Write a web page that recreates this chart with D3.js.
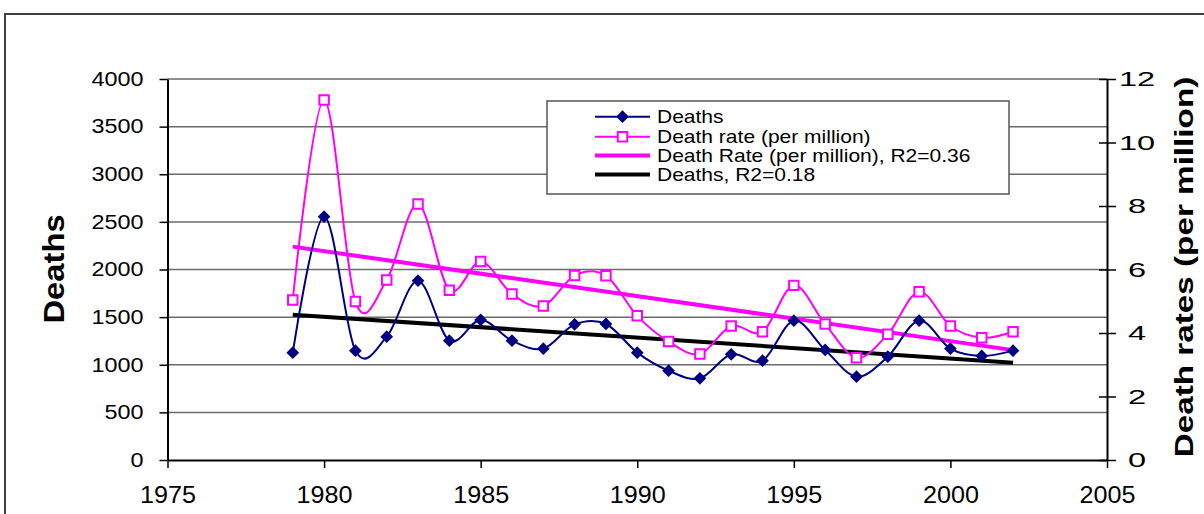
<!DOCTYPE html>
<html>
<head>
<meta charset="utf-8">
<script src="https://d3js.org/d3.v7.min.js"></script>
<style>
  body { margin: 0; background: #fff; }
  svg text { font-family: "Liberation Sans", Arial, sans-serif; fill: #000; }
</style>
</head>
<body>
<div class="chart"></div>
<script>
// data
var years = [1979, 1980, 1981, 1982, 1983, 1984, 1985, 1986, 1987, 1988, 1989, 1990,
             1991, 1992, 1993, 1994, 1995, 1996, 1997, 1998, 1999, 2000, 2001, 2002];
var deaths = [1127, 2555, 1148, 1295, 1883, 1253, 1470, 1253, 1169, 1424, 1428, 1127,
              938, 857, 1110, 1043, 1463, 1155, 875, 1085, 1463, 1169, 1092, 1148];
var rates = [5.04, 11.34, 4.99, 5.67, 8.06, 5.35, 6.25, 5.23, 4.85, 5.81, 5.80, 4.54,
             3.73, 3.34, 4.22, 4.04, 5.50, 4.28, 3.22, 3.96, 5.30, 4.22, 3.85, 4.04];
var trendYears = [1979, 2002];
var deathsTrend = [1526, 1022];
var rateTrend = [6.72, 3.46];

var xTicks = [1975, 1980, 1985, 1990, 1995, 2000, 2005];
var leftTicks = [0, 500, 1000, 1500, 2000, 2500, 3000, 3500, 4000];
var rightTicks = [0, 2, 4, 6, 8, 10, 12];
var legendLabels = ["Deaths", "Death rate (per million)",
                    "Death Rate (per million), R2=0.36", "Deaths, R2=0.18"];

var w = 1204, h = 514;
var plotL = 167.5, plotR = 1107, plotT = 79, plotB = 460;
var navy = "#000080", pink = "#ff00ff";

var x = d3.scaleLinear().domain([1975, 2005]).range([plotL, plotR]);
var yL = d3.scaleLinear().domain([0, 4000]).range([plotB, plotT]);
var yR = d3.scaleLinear().domain([0, 12]).range([plotB, plotT]);

var svg = d3.select("div.chart").append("svg")
    .attr("width", w).attr("height", h);

svg.append("rect").attr("width", w).attr("height", h).attr("fill", "#fff");

// outer frame (runs off the picture on right and bottom)
svg.append("rect")
    .attr("x", 5).attr("y", 14).attr("width", 1260).attr("height", 600)
    .attr("fill", "none").attr("stroke", "#404040").attr("stroke-width", 2);

// gridlines
svg.selectAll("line.grid")
    .data(leftTicks.slice(1))
    .enter().append("line")
    .attr("class", "grid")
    .attr("x1", plotL).attr("x2", plotR)
    .attr("y1", function(d) { return yL(d); })
    .attr("y2", function(d) { return yL(d); })
    .attr("stroke", "#6a6a6a").attr("stroke-width", 1.5);

// axes
var gL = svg.append("g").attr("transform", "translate(" + plotL + ",0)")
    .call(d3.axisLeft(yL).tickValues(leftTicks).tickFormat(d3.format("d"))
          .tickSize(8).tickSizeOuter(0));
gL.selectAll("text").attr("x", -24 / 1.2).attr("transform", "scale(1.2,1)")
    .style("font-size", "19.5px");

var gR = svg.append("g").attr("transform", "translate(" + plotR + ",0)")
    .call(d3.axisRight(yR).tickValues(rightTicks).tickSize(9).tickSizeOuter(0));
gR.selectAll(".tick line").attr("x1", -8).attr("x2", 9);
gR.selectAll("text").attr("x", 30 / 1.55).attr("text-anchor", "middle")
    .attr("transform", "scale(1.55,1)").style("font-size", "21px");

var gB = svg.append("g").attr("transform", "translate(0," + plotB + ")")
    .call(d3.axisBottom(x).tickValues(xTicks).tickFormat(d3.format("d"))
          .tickSize(8).tickSizeOuter(0));
gB.selectAll("text").attr("y", 43).attr("dy", 0)
    .attr("transform", "scale(1.08,1)").style("font-size", "23.3px");

[gL, gR, gB].forEach(function(g) {
    g.select(".domain").attr("stroke", "#000").attr("stroke-width", 2);
    g.selectAll(".tick line").attr("stroke", "#000").attr("stroke-width", 1.5);
});

// trend lines
var trendDeathsLine = d3.line()
    .x(function(d, i) { return x(trendYears[i]); })
    .y(function(d) { return yL(d); });
var trendRateLine = d3.line()
    .x(function(d, i) { return x(trendYears[i]); })
    .y(function(d) { return yR(d); });

svg.append("path").attr("d", trendRateLine(rateTrend))
    .attr("fill", "none").attr("stroke", pink).attr("stroke-width", 4);
svg.append("path").attr("d", trendDeathsLine(deathsTrend))
    .attr("fill", "none").attr("stroke", "#000").attr("stroke-width", 4);

// smoothed series
var smooth = d3.curveCardinal.tension(0);
var deathsLine = d3.line().curve(smooth)
    .x(function(d, i) { return x(years[i]); })
    .y(function(d) { return yL(d); });
var rateLine = d3.line().curve(smooth)
    .x(function(d, i) { return x(years[i]); })
    .y(function(d) { return yR(d); });

svg.append("path").attr("d", rateLine(rates))
    .attr("fill", "none").attr("stroke", pink).attr("stroke-width", 2);
svg.append("path").attr("d", deathsLine(deaths))
    .attr("fill", "none").attr("stroke", navy).attr("stroke-width", 2);

var square = d3.symbol().type(d3.symbolSquare).size(90);
var diamond = d3.symbol().type(d3.symbolSquare).size(81);

svg.selectAll("path.rate")
    .data(rates).enter().append("path")
    .attr("class", "rate")
    .attr("d", square)
    .attr("transform", function(d, i) { return "translate(" + x(years[i]) + "," + yR(d) + ")"; })
    .attr("fill", "#fff").attr("stroke", pink).attr("stroke-width", 2);

svg.selectAll("path.death")
    .data(deaths).enter().append("path")
    .attr("class", "death")
    .attr("d", diamond)
    .attr("transform", function(d, i) { return "translate(" + x(years[i]) + "," + yL(d) + ") rotate(45)"; })
    .attr("fill", navy);

// axis titles
svg.append("text")
    .attr("transform", "translate(64,269) rotate(-90) scale(1.13,1)")
    .attr("text-anchor", "middle")
    .style("font-size", "29px").style("font-weight", "bold")
    .text("Deaths");

svg.append("text")
    .attr("transform", "translate(1193,267) rotate(-90) scale(1.33,1)")
    .attr("text-anchor", "middle")
    .style("font-size", "25px").style("font-weight", "bold")
    .text("Death rates (per million)");

// legend
var lg = svg.append("g");
lg.append("rect")
    .attr("x", 547).attr("y", 101).attr("width", 462).attr("height", 93)
    .attr("fill", "#fff").attr("stroke", "#555").attr("stroke-width", 1.5);

var rowY = [116.7, 136.7, 155.5, 174.5];
var rowColor = [navy, pink, pink, "#000"];
var rowWidth = [2, 2, 4, 4];

lg.selectAll("line.key")
    .data(legendLabels).enter().append("line")
    .attr("class", "key")
    .attr("x1", 595).attr("x2", 650)
    .attr("y1", function(d, i) { return rowY[i]; })
    .attr("y2", function(d, i) { return rowY[i]; })
    .attr("stroke", function(d, i) { return rowColor[i]; })
    .attr("stroke-width", function(d, i) { return rowWidth[i]; });

lg.append("path").attr("d", diamond)
    .attr("transform", "translate(622.5," + rowY[0] + ") rotate(45)")
    .attr("fill", navy);
lg.append("path").attr("d", square)
    .attr("transform", "translate(622.5," + rowY[1] + ")")
    .attr("fill", "#fff").attr("stroke", pink).attr("stroke-width", 2);

lg.selectAll("text")
    .data(legendLabels).enter().append("text")
    .attr("transform", function(d, i) {
        return "translate(657," + (rowY[i] + 6) + ") scale(1.13,1)";
    })
    .style("font-size", "18.6px")
    .text(function(d) { return d; });
</script>
</body>
</html>
